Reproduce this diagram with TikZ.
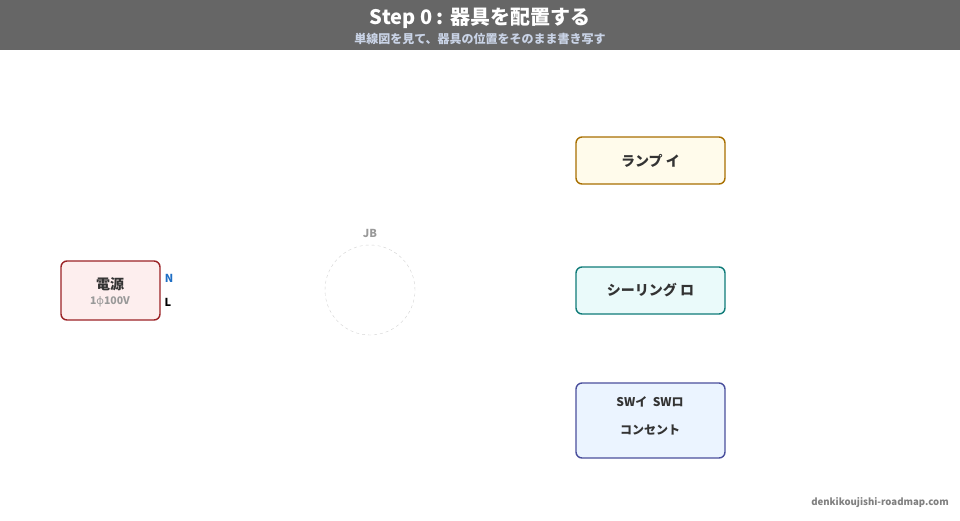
\documentclass[tikz,border=0pt]{standalone}
\usepackage{fontspec}
\setmainfont{Noto Sans CJK JP}
\newfontfamily\greekfont{Noto Sans}
\usepackage{tikz}
\definecolor{headgray}{HTML}{666666}
\definecolor{subblue}{HTML}{C9D3E6}
\definecolor{txtdark}{HTML}{333333}
\definecolor{srcred}{HTML}{9B2226}
\definecolor{srcfill}{HTML}{FDEEEE}
\definecolor{lampline}{HTML}{A86F00}
\definecolor{lampfill}{HTML}{FFFBEB}
\definecolor{ceilline}{HTML}{0F7B78}
\definecolor{ceilfill}{HTML}{EAFAFA}
\definecolor{swline}{HTML}{4A4F9C}
\definecolor{swfill}{HTML}{EBF4FF}
\definecolor{nblue}{HTML}{1F6FC5}

\begin{document}
\begin{tikzpicture}[
		x=1pt, y=-1pt,
		every node/.style={font=\bfseries, text=txtdark, inner sep=0pt},
		device/.style={rectangle, rounded corners=6pt, line width=1.4pt, minimum width=149pt}
	]
  \useasboundingbox (0,0) rectangle (960,520);
  \fill[headgray] (0,0) rectangle (960,50);
  \node (title) [text=white, font=\bfseries\fontsize{20}{22}\selectfont] at (480,18) {Step 0 : 器具を配置する};
  \node (subtitle) [text=subblue, font=\bfseries\fontsize{12}{14}\selectfont] at (480,38.5) {単線図を見て、器具の位置をそのまま書き写す};
  % power source
  \node (src) [device, draw=srcred, fill=srcfill, minimum width=99pt, minimum height=59pt] at (110.5,290.5) {};
  \node (src_label) [font=\bfseries\fontsize{14}{16}\selectfont] at (110,284) {電源};
  \node (src_volt) [text=black!40, font=\bfseries\fontsize{10.5}{12}\selectfont] at (110,301.5) {1{\greekfont\bfseries ϕ}100V};
  \node (N) [text=nblue, font=\bfseries\fontsize{11}{13}\selectfont] at (169,278.5) {N};
  \node (L) [text=black, font=\bfseries\fontsize{11}{13}\selectfont] at (168,302) {L};
  % joint box
  \node (jb) [circle, draw=black!18, dash pattern=on 3pt off 3pt, minimum size=90pt] at (370,290) {};
  \node (jb_label) [text=black!40, font=\bfseries\fontsize{11}{13}\selectfont] at (370,233.5) {JB};
  % devices
  \node (lamp) [device, draw=lampline, fill=lampfill, minimum height=47pt, font=\bfseries\fontsize{14}{16}\selectfont] at (650.5,160.5) {ランプ イ};
  \node (ceil) [device, draw=ceilline, fill=ceilfill, minimum height=47pt, font=\bfseries\fontsize{14}{16}\selectfont] at (650.5,290.5) {シーリング ロ};
  \node (sw) [device, draw=swline, fill=swfill, minimum height=75pt] at (650.5,420.5) {};
  \node (sw_label) [font=\bfseries\fontsize{12}{14}\selectfont] at (650,401.5) {SWイ\ \ SWロ};
  \node (outlet) [font=\bfseries\fontsize{12}{14}\selectfont] at (650,429.5) {コンセント};
  \node (site) [text=black!50, font=\bfseries\fontsize{9.6}{12}\selectfont] at (880,503) {denkikoujishi-roadmap.com};
\end{tikzpicture}
\end{document}
